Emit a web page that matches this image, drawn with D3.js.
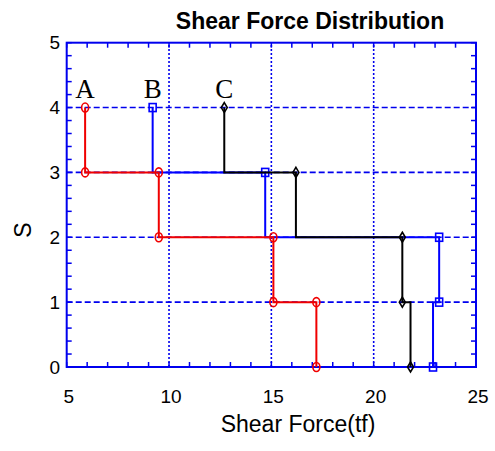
<!DOCTYPE html>
<html>
<head>
<meta charset="utf-8">
<script src="https://cdn.jsdelivr.net/npm/d3@7/dist/d3.min.js"></script>
<style>
body { margin: 0; background: #fff; }
</style>
</head>
<body>
<div id="chart"></div>
<script>
// stair vertices, shared storey levels
const levels = [4, 3, 3, 2, 2, 1, 1, 0];
const forceA = [5.9, 5.9, 9.5, 9.5, 15.1, 15.1, 17.2, 17.2];
const forceB = [9.2, 9.2, 14.7, 14.7, 23.2, 23.2, 22.9, 22.9];
const forceC = [12.7, 12.7, 16.2, 16.2, 21.4, 21.4, 21.8, 21.8];
// which vertices carry a marker
const markA = [0, 1, 2, 3, 4, 5, 6, 7];
const markB = [0, 2, 4, 5, 7];
const markC = [0, 2, 4, 5, 7];
const seriesNames = ["A", "B", "C"];
const xTicks = [5, 10, 15, 20, 25];
const yTicks = [0, 1, 2, 3, 4, 5];

const width = 495, height = 451;
const x = d3.scaleLinear().domain([5, 25]).range([66.7, 476]);
const y = d3.scaleLinear().domain([0, 5]).range([367, 42.7]);
const blue = "#0000ee";

const svg = d3.select("#chart").append("svg")
    .attr("width", width)
    .attr("height", height)
    .style("font-family", "Liberation Sans, Arial, sans-serif");

// grid
svg.append("g").selectAll("line")
    .data(xTicks.slice(1, -1))
    .join("line")
    .attr("x1", d => x(d)).attr("x2", d => x(d))
    .attr("y1", y(0)).attr("y2", y(5))
    .attr("stroke", blue).attr("stroke-width", 1.6)
    .attr("stroke-dasharray", "2,2");
svg.append("g").selectAll("line")
    .data(yTicks.slice(1, -1))
    .join("line")
    .attr("x1", x(5)).attr("x2", x(25))
    .attr("y1", d => y(d)).attr("y2", d => y(d))
    .attr("stroke", blue).attr("stroke-width", 1.6)
    .attr("stroke-dasharray", "6,3");

// inward ticks on all four sides
const tl = 5;
const xMinor = d3.range(5, 25.01, 1);
const yMinor = d3.range(0, 5.01, 0.2);
const ticks = svg.append("g").attr("stroke", blue).attr("stroke-width", 1.5);
xMinor.forEach(v => {
    ticks.append("line").attr("x1", x(v)).attr("x2", x(v)).attr("y1", y(0)).attr("y2", y(0) - tl);
    ticks.append("line").attr("x1", x(v)).attr("x2", x(v)).attr("y1", y(5)).attr("y2", y(5) + tl);
});
yMinor.forEach(v => {
    ticks.append("line").attr("x1", x(5)).attr("x2", x(5) + tl).attr("y1", y(v)).attr("y2", y(v));
    ticks.append("line").attr("x1", x(25)).attr("x2", x(25) - tl).attr("y1", y(v)).attr("y2", y(v));
});

svg.append("rect")
    .attr("x", x(5)).attr("y", y(5))
    .attr("width", x(25) - x(5)).attr("height", y(0) - y(5))
    .attr("fill", "none").attr("stroke", blue).attr("stroke-width", 2);

// tick labels
svg.append("g").selectAll("text")
    .data(xTicks)
    .join("text")
    .attr("x", d => x(d) + 2).attr("y", 403)
    .attr("text-anchor", "middle")
    .attr("font-size", 19)
    .text(d => d);
svg.append("g").selectAll("text")
    .data(yTicks)
    .join("text")
    .attr("x", 60).attr("y", d => y(d))
    .attr("dy", "0.35em")
    .attr("text-anchor", "end")
    .attr("font-size", 19)
    .text(d => d);

// series
const line = d3.line().x(d => x(d[0])).y(d => y(d[1]));
const pts = f => f.map((v, i) => [v, levels[i]]);

function drawB() {
    const p = pts(forceB);
    svg.append("path").attr("d", line(p)).attr("fill", "none").attr("stroke", "#0000ff").attr("stroke-width", 2);
    svg.append("g").selectAll("rect").data(markB.map(i => p[i])).join("rect")
        .attr("x", d => x(d[0]) - 3.5).attr("y", d => y(d[1]) - 4)
        .attr("width", 7).attr("height", 8)
        .attr("fill", "none").attr("stroke", "#0000ff").attr("stroke-width", 1.6);
}
function drawC() {
    const p = pts(forceC);
    svg.append("path").attr("d", line(p)).attr("fill", "none").attr("stroke", "#000").attr("stroke-width", 2);
    svg.append("g").selectAll("path").data(markC.map(i => p[i])).join("path")
        .attr("d", d => {
            const cx = x(d[0]), cy = y(d[1]);
            return `M${cx},${cy - 5}L${cx + 3},${cy}L${cx},${cy + 5}L${cx - 3},${cy}Z`;
        })
        .attr("fill", "none").attr("stroke", "#000").attr("stroke-width", 1.6);
}
function drawA() {
    const p = pts(forceA);
    svg.append("path").attr("d", line(p)).attr("fill", "none").attr("stroke", "#f00000").attr("stroke-width", 2);
    svg.append("g").selectAll("ellipse").data(markA.map(i => p[i])).join("ellipse")
        .attr("cx", d => x(d[0])).attr("cy", d => y(d[1]))
        .attr("rx", 3.5).attr("ry", 4.5)
        .attr("fill", "none").attr("stroke", "#f00000").attr("stroke-width", 1.6);
}
drawB();
drawC();
drawA();

// series letters above the top of each stair
const tops = [forceA[0], forceB[0], forceC[0]];
svg.append("g").selectAll("text")
    .data(seriesNames)
    .join("text")
    .attr("x", (d, i) => x(tops[i])).attr("y", 98)
    .attr("text-anchor", "middle")
    .attr("font-family", "Liberation Serif, Times New Roman, serif")
    .attr("font-size", 27)
    .text(d => d);

// titles
svg.append("text")
    .attr("x", 310).attr("y", 29)
    .attr("text-anchor", "middle")
    .attr("font-size", 23).attr("font-weight", "bold")
    .text("Shear Force Distribution");
svg.append("text")
    .attr("x", 298).attr("y", 432)
    .attr("text-anchor", "middle")
    .attr("font-size", 23)
    .text("Shear Force(tf)");
svg.append("text")
    .attr("transform", "translate(31,230) rotate(-90)")
    .attr("text-anchor", "middle")
    .attr("font-size", 23)
    .text("S");
</script>
</body>
</html>
